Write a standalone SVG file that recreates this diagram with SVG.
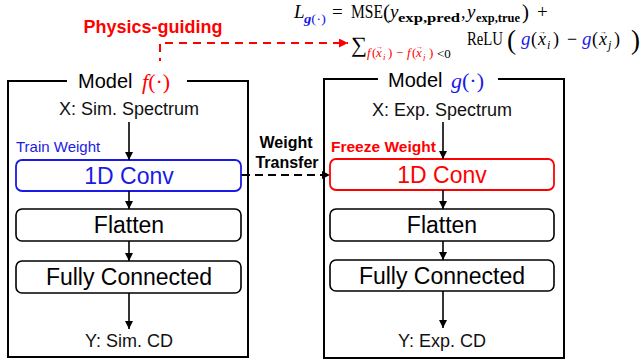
<svg xmlns="http://www.w3.org/2000/svg" width="643" height="361" viewBox="0 0 643 361">
<style>
.sans{font-family:"Liberation Sans",Arial,sans-serif;}
.serif{font-family:"Liberation Serif","DejaVu Serif",serif;}
.outer{fill:none;stroke:#000;stroke-width:2;}
.blk{fill:#fff;stroke:#000;stroke-width:1.6;}
.lbl{font-family:"Liberation Sans",Arial,sans-serif;font-size:23px;text-anchor:middle;fill:#000;}
.io{font-family:"Liberation Sans",Arial,sans-serif;font-size:18px;text-anchor:middle;fill:#111;}
.arr{stroke:#000;stroke-width:1.6;fill:none;marker-end:url(#ah);}
.red{fill:#ff0000;}
.blue{fill:#1a1ae6;}
.it{font-style:italic;}
.vec{font-size:7px;font-style:normal;}
</style>
<defs>
<marker id="ah" viewBox="0 0 10 10" refX="10" refY="5" markerWidth="8" markerHeight="9" orient="auto" markerUnits="userSpaceOnUse"><path d="M0,0 L10,5 L0,10 z" fill="#000"/></marker>
<marker id="ahr" viewBox="0 0 10 10" refX="10" refY="5" markerWidth="9" markerHeight="9" orient="auto" markerUnits="userSpaceOnUse"><path d="M0,0 L10,5 L0,10 z" fill="#ff0000"/></marker>
</defs>
<rect width="643" height="361" fill="#fff"/>

<g id="connectors">
<path d="M160,66 V43 H348" fill="none" stroke="#ff0000" stroke-width="2" stroke-dasharray="8,6" marker-end="url(#ahr)"/>
<path d="M241,175 H250" stroke="#000" stroke-width="2" fill="none"/>
<path d="M255,175 H330" stroke="#000" stroke-width="2" fill="none" stroke-dasharray="8,5" marker-end="url(#ah)"/>
</g>

<g id="physics-label">
<text x="153" y="33" class="sans" font-size="18" font-weight="bold" fill="#ff0000" text-anchor="middle">Physics-guiding</text>
</g>

<g id="weight-transfer-label" class="sans" font-size="16" font-weight="bold" text-anchor="middle" fill="#000">
<text x="286" y="148">Weight</text>
<text x="287" y="168">Transfer</text>
</g>

<g id="loss-formula" class="serif" fill="#000">
<text x="294" y="18" font-size="19" class="it">L</text>
<text x="304" y="23" font-size="13" class="blue" textLength="22" lengthAdjust="spacingAndGlyphs"><tspan font-style="italic" font-weight="bold">g</tspan>(·)</text>
<text x="332" y="18" font-size="19">=</text>
<text x="351" y="18" font-size="18" textLength="32" lengthAdjust="spacingAndGlyphs">MSE</text>
<text x="383" y="19" font-size="21">(</text>
<text x="390" y="18" font-size="19" class="it">y</text>
<text x="398" y="22" font-size="13" font-weight="bold" textLength="62" lengthAdjust="spacingAndGlyphs">exp,pred</text>
<text x="461" y="18" font-size="18">,</text>
<text x="467" y="18" font-size="19" class="it">y</text>
<text x="476" y="22" font-size="13" font-weight="bold" textLength="44" lengthAdjust="spacingAndGlyphs">exp,true</text>
<text x="522" y="19" font-size="21">)</text>
<text x="537" y="18" font-size="19">+</text>

<text x="351" y="52" font-size="22" textLength="16" lengthAdjust="spacingAndGlyphs">∑</text>
<g class="red" font-size="13">
<text x="367" y="57" class="it">f</text>
<text x="372" y="57">(</text>
<text x="376" y="57" class="it">x</text>
<text x="376" y="49" class="vec">→</text>
<text x="383" y="60" font-size="9" class="it">i</text>
<text x="388" y="57">)</text>
<text x="396" y="57">−</text>
<text x="407" y="57" class="it">f</text>
<text x="412" y="57">(</text>
<text x="416" y="57" class="it">x</text>
<text x="416" y="49" class="vec">→</text>
<text x="423" y="60" font-size="9" class="it">j</text>
<text x="429" y="57">)</text>
</g>
<text x="437" y="58" font-size="13">&lt;0</text>
<text x="467" y="45" font-size="18" textLength="36" lengthAdjust="spacingAndGlyphs">ReLU</text>
<text x="507" y="49" font-size="27">(</text>
<text x="521" y="45" font-size="19" class="it blue">g</text>
<text x="531" y="45" font-size="18">(</text>
<text x="538" y="45" font-size="18" class="it">x</text>
<text x="539" y="34" class="vec" font-size="9">→</text>
<text x="547" y="49" font-size="12" class="it">i</text>
<text x="553" y="45" font-size="18">)</text>
<text x="567" y="45" font-size="18">−</text>
<text x="582" y="45" font-size="19" class="it blue">g</text>
<text x="592" y="45" font-size="18">(</text>
<text x="599" y="45" font-size="18" class="it">x</text>
<text x="600" y="34" class="vec" font-size="9">→</text>
<text x="608" y="49" font-size="12" class="it">j</text>
<text x="614" y="45" font-size="18">)</text>
<text x="631" y="49" font-size="27">)</text>
</g>

<g id="model-f">
<rect x="8" y="81" width="240" height="276" class="outer"/>
<rect x="67" y="61" width="120" height="37" fill="#fff"/>
<text x="78" y="88" class="sans" font-size="20" fill="#000">Model</text>
<text x="142" y="89" class="serif red" font-size="22"><tspan font-style="italic">f</tspan>(·)</text>
<text x="129" y="115" class="io">X: Sim. Spectrum</text>
<text x="16" y="152" class="sans blue" font-size="15">Train Weight</text>
</g>
<g id="f-conv">
<rect x="16" y="160" width="225" height="31" rx="6" fill="#fff" stroke="#1a1ae6" stroke-width="1.8"/>
<text x="129" y="184" class="lbl" style="fill:#1a1ae6">1D Conv</text>
</g>
<g id="f-flatten">
<rect x="16" y="209" width="225" height="32" rx="6" class="blk"/>
<text x="129" y="233" class="lbl">Flatten</text>
</g>
<g id="f-fc">
<rect x="16" y="261" width="225" height="32" rx="6" class="blk"/>
<text x="129" y="285" class="lbl">Fully Connected</text>
</g>
<g id="f-out">
<text x="129" y="347" class="io">Y: Sim. CD</text>
</g>

<g id="model-g">
<rect x="324" y="79" width="240" height="279" class="outer"/>
<rect x="378" y="61" width="120" height="35" fill="#fff"/>
<text x="388" y="87" class="sans" font-size="20" fill="#000">Model</text>
<text x="451" y="88" class="serif blue" font-size="22"><tspan font-style="italic">g</tspan>(·)</text>
<text x="442" y="116" class="io">X: Exp. Spectrum</text>
<text x="331" y="152" class="sans red" font-size="15.5" font-weight="bold">Freeze Weight</text>
</g>
<g id="g-conv">
<rect x="330" y="159" width="224" height="31" rx="6" fill="#fff" stroke="#ff0000" stroke-width="1.8"/>
<text x="442" y="183" class="lbl" style="fill:#ff0000">1D Conv</text>
</g>
<g id="g-flatten">
<rect x="330" y="209" width="224" height="32" rx="6" class="blk"/>
<text x="442" y="233" class="lbl">Flatten</text>
</g>
<g id="g-fc">
<rect x="330" y="260" width="224" height="31" rx="6" class="blk"/>
<text x="442" y="284" class="lbl">Fully Connected</text>
</g>
<g id="g-out">
<text x="442" y="347" class="io">Y: Exp. CD</text>
</g>

<g id="flow-arrows">
<line x1="129" y1="122" x2="129" y2="160" class="arr"/>
<line x1="129" y1="191" x2="129" y2="209" class="arr"/>
<line x1="129" y1="241" x2="129" y2="261" class="arr"/>
<line x1="129" y1="293" x2="129" y2="329" class="arr"/>
<line x1="443" y1="122" x2="443" y2="159" class="arr"/>
<line x1="443" y1="190" x2="443" y2="209" class="arr"/>
<line x1="443" y1="241" x2="443" y2="260" class="arr"/>
<line x1="443" y1="291" x2="443" y2="328" class="arr"/>
</g>
</svg>
